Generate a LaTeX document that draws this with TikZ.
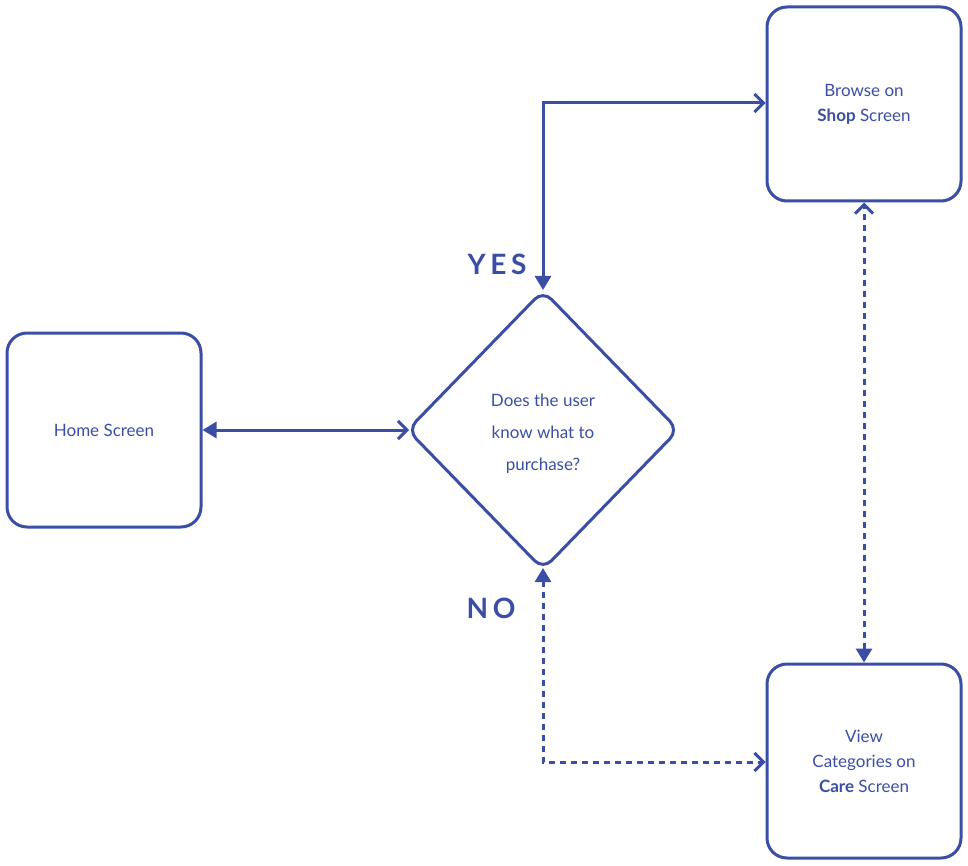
\documentclass[tikz,border=0pt]{standalone}
\usepackage{fontspec}
\setmainfont{Lato}
\usetikzlibrary{shapes.geometric,arrows.meta}
\definecolor{bl}{HTML}{3A4EA6}
\begin{document}
\begin{tikzpicture}[x=1pt,y=-1pt,
  box/.style={draw=bl,line width=3pt,rounded corners=20pt,minimum width=194pt,minimum height=194pt,align=center,text=bl,font=\fontsize{17}{25}\selectfont},
  con/.style={draw=bl,line width=3pt,{Triangle[length=14pt,width=16pt]}-{Straight Barb[length=9pt,width=18pt,line width=3pt]}},
  dsh/.style={dash pattern=on 6pt off 5pt},
  lab/.style={text=bl,font=\fontsize{28}{30}\selectfont\bfseries}]
\useasboundingbox (0,0) rectangle (968,866);
\node[box] (home) at (104,430) {Home Screen};
\node[box] (shop) at (864,104) {Browse on\\\textbf{Shop} Screen};
\node[box] (care) at (864,761) {View\\Categories on\\\textbf{Care} Screen};
\node[draw=bl,line width=3pt,diamond,rounded corners=12pt,minimum width=272pt,minimum height=280pt,inner sep=0pt,align=center,text=bl,font=\fontsize{17}{32}\selectfont] (dec) at (543,430) {};
\node[text=bl,align=center,font=\fontsize{17}{32}\selectfont] (dect) at (543,434) {Does the user\\know what to\\purchase?};
\coordinate (dtop) at (543,290);
\coordinate (dbot) at (543,568);
\coordinate (dleft) at (409,430);
\draw[con] (home.east) -- (dleft);
\draw[con,line cap=butt] (dtop) |- (shop.west |- 0,103);
\draw[con,dsh] (dbot) |- (care.west |- 0,762);
\draw[con,dsh] (care.north) -- (shop.south);
\node[lab] (yes) at (497,264) {Y\,E\,S};
\node[lab] (no) at (491,608) {N\,O};
\end{tikzpicture}
\end{document}
